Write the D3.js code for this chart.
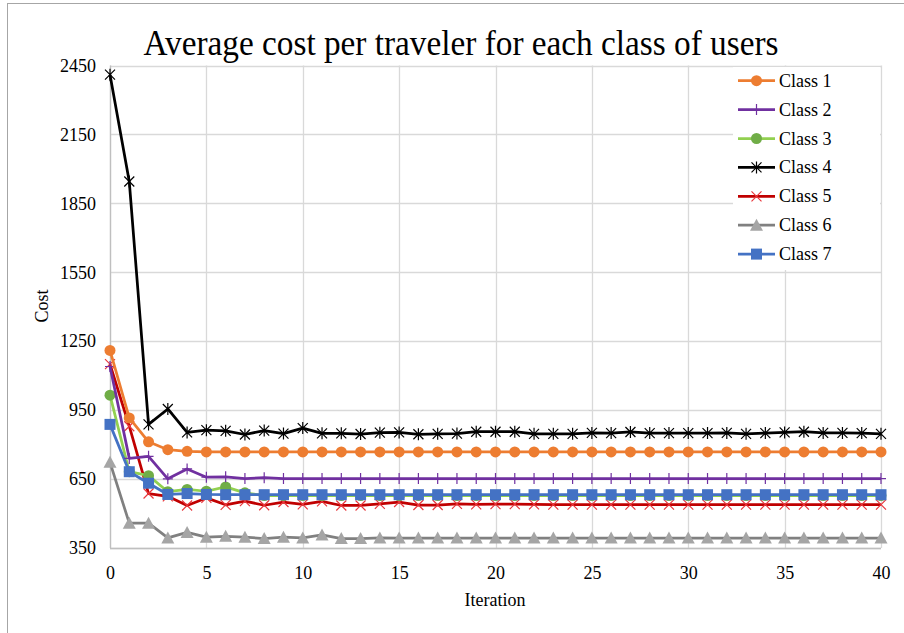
<!DOCTYPE html>
<html><head><meta charset="utf-8">
<script src="https://cdn.jsdelivr.net/npm/d3@7/dist/d3.min.js"></script>
<style>body{margin:0;background:#fff}svg{display:block}</style>
</head><body>
<svg id="c" width="904" height="633"></svg>
<script>
const iterations = [0,1,2,3,4,5,6,7,8,9,10,11,12,13,14,15,16,17,18,19,20,21,22,23,24,25,26,27,28,29,30,31,32,33,34,35,36,37,38,39,40];
const class1 = [1210,916,812,778,771,768,768,768,768,768,768,768,768,768,768,768,768,768,768,768,768,768,768,768,768,768,768,768,768,768,768,768,768,768,768,768,768,768,768,768,768];
const class2 = [1140,740,749,651,694,658,660,652,656,652,652,652,652,652,652,652,652,652,652,652,652,652,652,652,652,652,652,652,652,652,652,652,652,652,652,652,652,652,652,652,652];
const class3 = [1015,682,665,595,605,597,616,590,578,578,578,578,578,578,578,578,578,578,578,578,578,578,578,578,578,578,578,578,578,578,578,578,578,578,578,578,578,578,578,578,578];
const class4 = [2410,1945,888,955,853,863,860,844,861,848,872,849,849,846,852,853,845,847,848,856,856,856,847,847,847,851,850,855,850,850,850,850,851,847,850,853,856,851,851,850,847];
const class5 = [1150,880,587,575,535,568,538,554,536,550,540,553,535,535,542,550,537,537,542,540,541,541,540,539,539,539,539,539,539,539,539,539,539,539,539,539,539,539,539,539,539];
const class6 = [723,458,458,394,418,397,401,397,391,397,394,407,391,391,394,393,393,393,393,393,393,393,393,393,393,393,393,393,393,393,393,393,393,393,393,393,393,393,393,393,393];
const class7 = [888,682,632,583,587,583,582,582,582,582,582,582,582,582,582,582,582,582,582,582,582,582,582,582,582,582,582,582,582,582,582,582,582,582,582,582,582,582,582,582,582];
const seriesNames = ["Class 1","Class 2","Class 3","Class 4","Class 5","Class 6","Class 7"];
const yTicks = [350,650,950,1250,1550,1850,2150,2450];
const xTicks = [0,5,10,15,20,25,30,35,40];
const titleText = "Average cost per traveler for each class of users";

const styles = [
  {line:"#ED7D31", mark:"#ED7D31", shape:"circle"},
  {line:"#7030A0", mark:"#7030A0", shape:"plus"},
  {line:"#92D050", mark:"#70AD47", shape:"circle"},
  {line:"#000000", mark:"#000000", shape:"star"},
  {line:"#C00000", mark:"#E8383D", shape:"x"},
  {line:"#808080", mark:"#A5A5A5", shape:"triangle"},
  {line:"#4472C4", mark:"#4472C4", shape:"square"}
];
const allData = [class1,class2,class3,class4,class5,class6,class7];

const svg = d3.select("#c");
const W=904,H=633;
const m = {l:110, r:W-881, t:65.5, b:H-548};
const x = d3.scaleLinear().domain([0,40]).range([m.l, W-m.r]);
const y = d3.scaleLinear().domain([350,2450]).range([H-m.b, m.t]);

svg.append("rect").attr("x",7.5).attr("y",3.5).attr("width",W+20).attr("height",H+20)
  .attr("fill","none").attr("stroke","#A6A6A6").attr("stroke-width",1);

const g = svg.append("g");
g.selectAll(".hg").data(yTicks).enter().append("line")
  .attr("x1",x(0)).attr("x2",x(40)).attr("y1",d=>Math.round(y(d))+0.5).attr("y2",d=>Math.round(y(d))+0.5)
  .attr("stroke","#D9D9D9").attr("stroke-width",1.3);
g.selectAll(".vg").data(xTicks).enter().append("line")
  .attr("y1",y(350)).attr("y2",y(2450)).attr("x1",d=>Math.round(x(d))+0.5).attr("x2",d=>Math.round(x(d))+0.5)
  .attr("stroke","#D9D9D9").attr("stroke-width",1.3);
g.append("line").attr("x1",x(0)).attr("x2",x(40)).attr("y1",Math.round(y(350))+0.5).attr("y2",Math.round(y(350))+0.5).attr("stroke","#BFBFBF").attr("stroke-width",1.3);
g.append("line").attr("x1",Math.round(x(0))+0.5).attr("x2",Math.round(x(0))+0.5).attr("y1",y(350)).attr("y2",y(2450)).attr("stroke","#BFBFBF").attr("stroke-width",1.3);

const yAxis = d3.axisLeft(y).tickValues(yTicks).tickFormat(d3.format("d")).tickSize(0).tickPadding(14);
const ya = svg.append("g").attr("transform",`translate(${x(0)},0)`).call(yAxis);
ya.select(".domain").remove();
ya.attr("font-family","Liberation Serif");
ya.selectAll("text").attr("font-family","Liberation Serif").attr("font-size",18).attr("fill","#000");
const xAxis = d3.axisBottom(x).tickValues(xTicks).tickFormat(d3.format("d")).tickSize(0).tickPadding(18);
const xa = svg.append("g").attr("transform",`translate(0,${y(350)})`).call(xAxis);
xa.select(".domain").remove();
xa.attr("font-family","Liberation Serif");
xa.selectAll("text").attr("font-family","Liberation Serif").attr("font-size",18).attr("fill","#000");

svg.append("text").attr("x",461).attr("y",55).attr("text-anchor","middle")
  .attr("font-family","Liberation Serif").attr("font-size",35)
  .attr("textLength",635).attr("lengthAdjust","spacingAndGlyphs").text(titleText);
svg.append("text").attr("x",495).attr("y",606).attr("text-anchor","middle")
  .attr("font-family","Liberation Serif").attr("font-size",18).text("Iteration");
svg.append("text").attr("transform","translate(48,306) rotate(-90)").attr("text-anchor","middle")
  .attr("font-family","Liberation Serif").attr("font-size",18).text("Cost");

function drawMarker(sel, shape, color, cx, cy, s) {
  s = s || 1;
  if (shape==="circle") sel.append("circle").attr("cx",cx).attr("cy",cy).attr("r",5.5*s).attr("fill",color);
  else if (shape==="square") sel.append("rect").attr("x",cx-5.5*s).attr("y",cy-5.5*s).attr("width",11*s).attr("height",11*s).attr("fill",color);
  else if (shape==="triangle") sel.append("path").attr("d",`M${cx},${cy-6.5*s}L${cx+6.5*s},${cy+5.5*s}L${cx-6.5*s},${cy+5.5*s}Z`).attr("fill",color);
  else if (shape==="plus") sel.append("path").attr("d",`M${cx-5*s},${cy}H${cx+5*s}M${cx},${cy-5.5*s}V${cy+5.5*s}`).attr("stroke",color).attr("stroke-width",1.2);
  else if (shape==="x") sel.append("path").attr("d",`M${cx-5*s},${cy-5*s}L${cx+5*s},${cy+5*s}M${cx-5*s},${cy+5*s}L${cx+5*s},${cy-5*s}`).attr("stroke",color).attr("stroke-width",1.2);
  else if (shape==="star") sel.append("path").attr("d",`M${cx-5*s},${cy-5*s}L${cx+5*s},${cy+5*s}M${cx-5*s},${cy+5*s}L${cx+5*s},${cy-5*s}M${cx},${cy-6*s}V${cy+6*s}`).attr("stroke",color).attr("stroke-width",1.2);
}

const line = d3.line().x((d,i)=>x(iterations[i])).y(d=>y(d));
const order = [5,4,2,6,1,0,3];
order.forEach(k=>{
  const gs = svg.append("g");
  gs.append("path").attr("d",line(allData[k])).attr("fill","none").attr("stroke",styles[k].line).attr("stroke-width",2.75).attr("stroke-linejoin","round");
  allData[k].forEach((v,i)=>drawMarker(gs, styles[k].shape, styles[k].mark, x(iterations[i]), y(v)));
});

const lg = svg.append("g");
lg.append("rect").attr("x",733).attr("y",67).attr("width",147).attr("height",203).attr("fill","#fff");
seriesNames.forEach((nm,k)=>{
  const cy = 80.7 + k*28.9;
  lg.append("line").attr("x1",738).attr("x2",775).attr("y1",cy).attr("y2",cy).attr("stroke",styles[k].line).attr("stroke-width",2.75);
  drawMarker(lg, styles[k].shape, styles[k].mark, 756.5, cy);
  lg.append("text").attr("x",779).attr("y",cy+6).attr("font-family","Liberation Serif").attr("font-size",18).text(nm);
});
</script>
</body></html>
